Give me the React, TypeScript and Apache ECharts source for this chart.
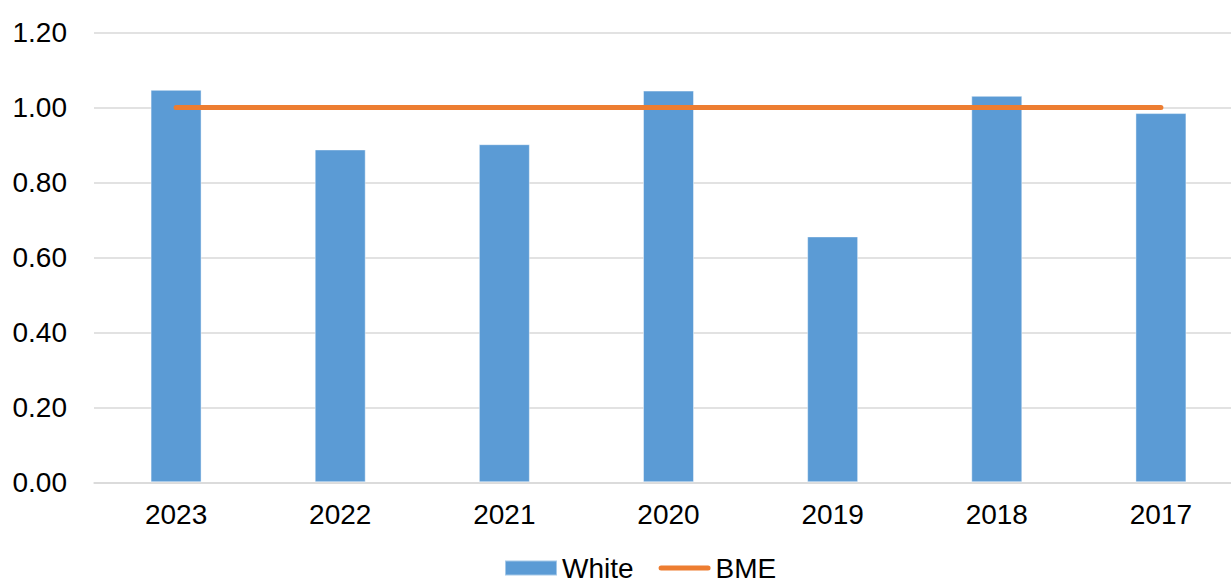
import React, { useEffect, useRef } from "react";
import * as echarts from "echarts";

// Ratio by year, newest first
const years = ["2023", "2022", "2021", "2020", "2019", "2018", "2017"];
const whiteValues = [1.047, 0.888, 0.902, 1.045, 0.656, 1.031, 0.985];
const bmeValues = [1.0, 1.0, 1.0, 1.0, 1.0, 1.0, 1.0];
const yTicks = { min: 0, max: 1.2, interval: 0.2 };

const FONT = "'Liberation Sans', Arial, sans-serif";

// Legend icon for the line: a rounded stroke in the middle of a 52x15 box
const LINE_ICON =
  "path://M0,0 M52,15 M2.5,5 L49.5,5 A2.5,2.5 0 0 1 49.5,10 L2.5,10 A2.5,2.5 0 0 1 2.5,5 Z";

export default function App() {
  const ref = useRef<HTMLDivElement>(null);

  useEffect(() => {
    if (!ref.current) return;
    const chart = echarts.init(ref.current, null, { renderer: "svg" });
    chart.setOption({
      animation: false,
      backgroundColor: "#ffffff",
      textStyle: { fontFamily: FONT },
      grid: { left: 94, right: 0, top: 32.5, bottom: 101.7, containLabel: false },
      legend: {
        top: 549,
        left: 499,
        itemWidth: 52,
        itemHeight: 15,
        itemGap: 25,
        textStyle: { fontFamily: FONT, fontSize: 28, color: "#000000" },
        data: [
          { name: "White", icon: "rect" },
          { name: "BME", icon: LINE_ICON },
        ],
      },
      xAxis: {
        type: "category",
        data: years,
        boundaryGap: true,
        axisLine: { lineStyle: { color: "#D9D9D9", width: 1.5 } },
        axisTick: { show: false },
        axisLabel: { fontFamily: FONT, fontSize: 28, color: "#000000", margin: 18 },
      },
      yAxis: {
        type: "value",
        min: yTicks.min,
        max: yTicks.max,
        interval: yTicks.interval,
        axisLine: { show: false },
        axisTick: { show: false },
        splitLine: { lineStyle: { color: "#D9D9D9", width: 1.5 } },
        axisLabel: {
          fontFamily: FONT,
          fontSize: 28,
          color: "#000000",
          margin: 27,
          formatter: (v: number) => v.toFixed(2),
        },
      },
      series: [
        {
          name: "White",
          type: "bar",
          data: whiteValues,
          barWidth: 51,
          itemStyle: {
            color: "#5B9BD5",
            borderColor: "rgba(255,255,255,0.45)",
            borderWidth: 1,
          },
        },
        {
          name: "BME",
          type: "line",
          data: bmeValues,
          symbol: "none",
          showSymbol: false,
          lineStyle: { color: "#ED7D31", width: 5, cap: "round" },
          itemStyle: { color: "#ED7D31" },
        },
      ],
    });
    return () => chart.dispose();
  }, []);

  // The plot runs slightly past the right edge of the visible frame
  return (
    <div style={{ position: "fixed", left: 0, top: 0, width: 1231, height: 584, overflow: "hidden" }}>
      <div ref={ref} style={{ width: 1243, height: 584 }} />
    </div>
  );
}
